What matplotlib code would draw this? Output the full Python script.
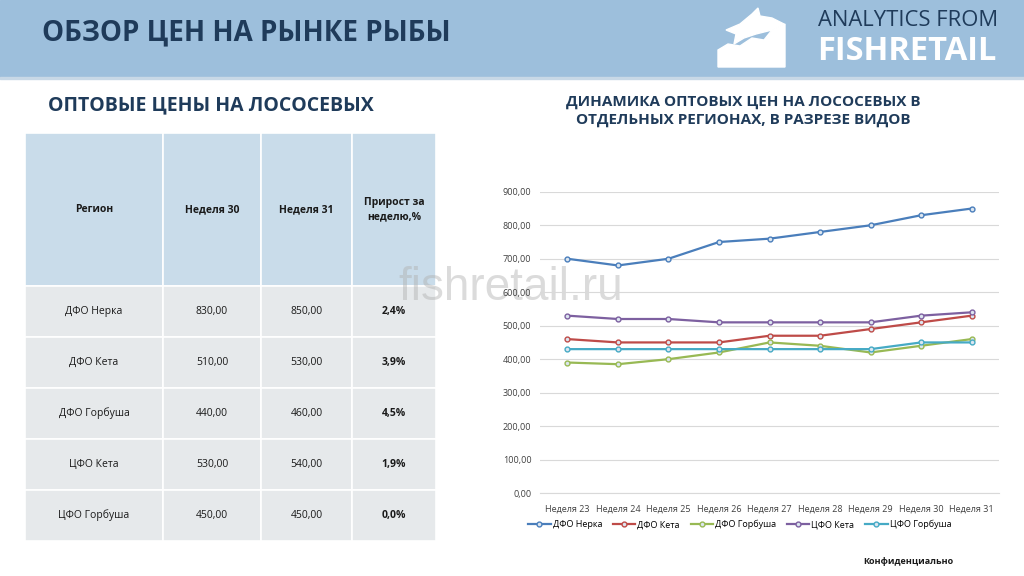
import matplotlib.pyplot as plt
from matplotlib.patches import Rectangle, Polygon

# chart data
weeks = ["Неделя 23", "Неделя 24", "Неделя 25", "Неделя 26", "Неделя 27",
         "Неделя 28", "Неделя 29", "Неделя 30", "Неделя 31"]
dfo_nerka = [700, 680, 700, 750, 760, 780, 800, 830, 850]
dfo_keta = [460, 450, 450, 450, 470, 470, 490, 510, 530]
dfo_gorbusha = [390, 385, 400, 420, 450, 440, 420, 440, 460]
cfo_keta = [530, 520, 520, 510, 510, 510, 510, 530, 540]
cfo_gorbusha = [430, 430, 430, 430, 430, 430, 430, 450, 450]
series_names = ["ДФО Нерка", "ДФО Кета", "ДФО Горбуша", "ЦФО Кета", "ЦФО Горбуша"]
series_colors = ["#4a7ebb", "#be4b48", "#98b954", "#7d60a0", "#46aac5"]

# table data
table_header = ["Регион", "Неделя 30", "Неделя 31", "Прирост за\nнеделю,%"]
table_regions = ["ДФО Нерка", "ДФО Кета", "ДФО Горбуша", "ЦФО Кета", "ЦФО Горбуша"]
table_week30 = ["830,00", "510,00", "440,00", "530,00", "450,00"]
table_week31 = ["850,00", "530,00", "460,00", "540,00", "450,00"]
table_growth = ["2,4%", "3,9%", "4,5%", "1,9%", "0,0%"]

NAVY = "#1f3b5a"
plt.rcParams["font.family"] = ["Open Sans", "DejaVu Sans"]

fig = plt.figure(figsize=(10.24, 5.76), dpi=100)
fig.patch.set_facecolor("white")

# page layer in pixel coordinates
bg = fig.add_axes([0, 0, 1, 1])
bg.set_xlim(0, 1024)
bg.set_ylim(576, 0)
bg.axis("off")

# header band
bg.add_patch(Rectangle((0, 0), 1024, 77, color="#9dbfdc", zorder=0))
bg.add_patch(Rectangle((0, 77), 1024, 2, color="#c8d8e6", zorder=0))
bg.text(42, 33, "ОБЗОР ЦЕН НА РЫНКЕ РЫБЫ", fontsize=20, fontweight="bold",
        color=NAVY, va="center", ha="left")

# logo: white fish over a wave block
bg.add_patch(Polygon([(718, 67), (718, 50), (728, 44), (740, 46), (752, 38),
                      (764, 40), (772, 30), (785, 24), (785, 67)],
                     closed=True, color="white", zorder=1))
bg.add_patch(Polygon([(726, 30), (740, 24), (752, 14), (758, 8), (760, 16),
                      (772, 18), (784, 24), (772, 30), (756, 34), (744, 38),
                      (734, 44), (736, 34)],
                     closed=True, color="white", zorder=1))
bg.text(818, 21, "ANALYTICS FROM", fontsize=15.8, color=NAVY, va="center",
        ha="left")
bg.text(817, 51, "FISHRETAIL", fontsize=23.5, color="white", fontweight="bold",
        va="center", ha="left")

# section titles
bg.text(48, 105, "ОПТОВЫЕ ЦЕНЫ НА ЛОСОСЕВЫХ", fontsize=14, fontweight="bold",
        color=NAVY, va="center", ha="left")
bg.text(743, 111, "ДИНАМИКА ОПТОВЫХ ЦЕН НА ЛОСОСЕВЫХ В\nОТДЕЛЬНЫХ РЕГИОНАХ, В РАЗРЕЗЕ ВИДОВ",
        fontsize=11, fontweight="bold", color=NAVY, va="center", ha="center",
        linespacing=1.25)

# table
col_edges = [25, 163, 261, 352, 436]
row_edges = [133, 286, 337, 388, 439, 490, 541]
rows = [table_header] + [list(r) for r in zip(table_regions, table_week30,
                                               table_week31, table_growth)]
for i, row in enumerate(rows):
    y0, y1 = row_edges[i], row_edges[i + 1]
    face = "#c9dcea" if i == 0 else "#e6e9eb"
    for j, val in enumerate(row):
        x0, x1 = col_edges[j], col_edges[j + 1]
        bg.add_patch(Rectangle((x0, y0), x1 - x0, y1 - y0, facecolor=face,
                               edgecolor="white", linewidth=1.2, zorder=1))
        bold = i == 0 or j == 3
        bg.text((x0 + x1) / 2, (y0 + y1) / 2, val, fontsize=7.5,
                fontweight="bold" if bold else "normal", color="#1a1a1a",
                ha="center", va="center", linespacing=1.4, zorder=2)

# watermark
bg.text(511, 300, "fishretail.ru", fontsize=33, color="#b0b0b0", alpha=0.45,
        ha="center", va="baseline", zorder=5, family=["Liberation Sans"])

bg.text(908, 562, "Конфиденциально", fontsize=6.5, fontweight="bold",
        color="#1a1a1a", ha="center", va="center")

# line chart
ax = fig.add_axes([0.527, 0.144, 0.449, 0.523])
all_series = [dfo_nerka, dfo_keta, dfo_gorbusha, cfo_keta, cfo_gorbusha]
x = list(range(len(weeks)))
for vals, name, col in zip(all_series, series_names, series_colors):
    ax.plot(x, vals, color=col, linewidth=1.6, marker="o", markersize=3.5,
            markerfacecolor="#dce6f0", markeredgecolor=col, markeredgewidth=1,
            label=name)

ax.set_ylim(0, 900)
ax.set_xlim(-0.55, 8.55)
ax.set_yticks(range(0, 901, 100))
ax.set_yticklabels([f"{v},00" for v in range(0, 901, 100)])
ax.set_xticks(x)
ax.set_xticklabels(weeks)
ax.tick_params(axis="both", length=0, labelsize=6.5, colors="#404040")
ax.tick_params(axis="x", pad=8)
ax.tick_params(axis="y", pad=6)
ax.grid(axis="y", color="#d9d9d9", linewidth=0.8)
ax.set_axisbelow(True)
for side in ["top", "right", "left"]:
    ax.spines[side].set_visible(False)
ax.spines["bottom"].set_color("#d9d9d9")
ax.patch.set_alpha(0)

ax.legend(loc="center", bbox_to_anchor=(0.435, -0.105), ncol=5, frameon=False,
          fontsize=6.5, handlelength=2.5, columnspacing=1.2, handletextpad=0.2)

fig.savefig("out.png", dpi=100, facecolor=fig.get_facecolor())
